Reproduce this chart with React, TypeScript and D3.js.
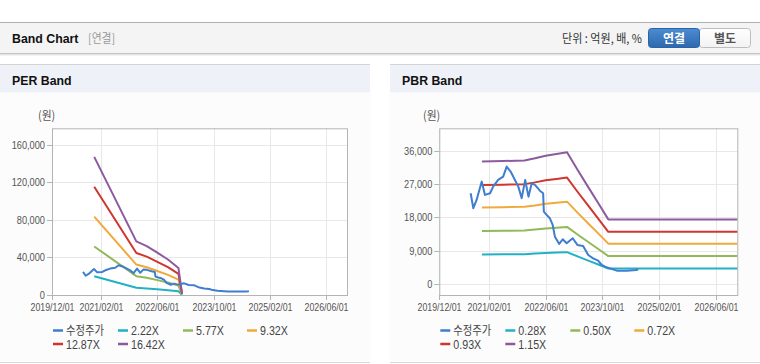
import React from "react";
import * as d3 from "d3";

// ---------- DATA ----------
const PRICE_DATES = [
  "2020-08-26","2020-09-18","2020-10-16","2020-11-29","2020-12-27","2021-02-09","2021-03-07",
  "2021-04-19","2021-06-01","2021-07-01","2021-08-04","2021-09-10","2021-10-09","2021-11-07",
  "2021-12-07","2022-01-04","2022-02-01","2022-03-01","2022-04-12","2022-05-10","2022-05-16",
  "2022-06-09","2022-07-06","2022-07-31","2022-08-19","2022-09-25","2022-10-25","2022-11-28",
  "2023-01-19","2023-02-28","2023-04-18","2023-06-01","2023-07-13","2023-08-25","2023-09-25",
  "2023-11-05","2024-02-01","2024-04-25","2024-07-19","2024-08-03"
];
const PRICE_VALUES = [
  24520,20480,22720,27650,24070,24520,26300,
  28100,29000,31700,30350,28100,26300,23200,
  28100,23600,27200,26760,25200,24520,19570,
  18680,17790,15980,12830,10860,12130,11050,
  12400,10600,10320,7900,7000,6360,5200,
  4580,3670,3670,3850,4040
];

const PER_BAND_DATES = ["2020-12-01","2021-12-01","2022-03-01","2022-06-01","2022-09-01","2022-12-01","2023-01-01"];
const PER_LABELS = ["2.22X","5.77X","9.32X","12.87X","16.42X"];
const PER_BAND_1 = [19870, 7700, 7040, 6080, 5110, 3890, 220];
const PER_BAND_2 = [51640, 20020, 18290, 15810, 13270, 10100, 580];
const PER_BAND_3 = [83410, 32340, 29540, 25540, 21440, 16310, 930];
const PER_BAND_4 = [115190, 44660, 40800, 35260, 29600, 22520, 1290];
const PER_BAND_5 = [146960, 56980, 52050, 44990, 37770, 28740, 1640];
const PER_Y_TICKS = [0, 40000, 80000, 120000, 160000];

const PBR_BAND_DATES = ["2020-12-01","2021-06-01","2021-12-01","2022-03-01","2022-06-01","2022-09-01","2022-12-01","2023-03-01","2023-06-01","2023-09-01","2023-11-20","2026-12-01"];
const PBR_LABELS = ["0.28X","0.50X","0.72X","0.93X","1.15X"];
const PBR_BAND_1 = [8040, 8080, 8120, 8260, 8430, 8540, 8650, 7500, 6370, 5250, 4260, 4260];
const PBR_BAND_2 = [14365, 14425, 14500, 14750, 15050, 15250, 15450, 13400, 11375, 9375, 7600, 7600];
const PBR_BAND_3 = [20690, 20770, 20880, 21240, 21670, 21960, 22250, 19300, 16380, 13500, 10940, 10940];
const PBR_BAND_4 = [26720, 26830, 26970, 27440, 27990, 28370, 28740, 24920, 21160, 17440, 14140, 14140];
const PBR_BAND_5 = [33040, 33180, 33350, 33930, 34620, 35080, 35540, 30820, 26160, 21560, 17480, 17480];
const PBR_Y_TICKS = [0, 9000, 18000, 27000, 36000];

const X_TICKS = ["2019-12-01","2021-02-01","2022-06-01","2023-10-01","2025-02-01","2026-06-01"];
const X_DOMAIN = ["2019-12-01", "2026-12-01"];
const PRICE_LABEL = "수정주가";

const COLORS = ["#3f7dcf", "#22b1c4", "#91b957", "#f2a93c", "#cf372e", "#8e5a9f"];

// ---------- HELPERS ----------
const parse = d3.timeParse("%Y-%m-%d");
const fmtDate = d3.timeFormat("%Y/%m/%d");
const fmtNum = d3.format(",");
const FONT = "'Liberation Sans', Arial, 'Noto Sans CJK KR', sans-serif";
const KFONT = "'Noto Sans CJK KR', 'Liberation Sans', sans-serif";

function SText(props: any) {
  const { x, y, anchor = "start", size = 11, fill = "#555", weight = "normal", sx = 0.82, family = FONT, children } = props;
  return (
    <text
      transform={`translate(${x},${y}) scale(${sx},1)`}
      textAnchor={anchor}
      fontSize={size}
      fill={fill}
      fontWeight={weight}
      fontFamily={family}
    >
      {children}
    </text>
  );
}

function BandPanel(props: any) {
  const { px, pw, title, left, right, yDomain, yTicks, bandDates, bands, labels, unitX } = props;
  const top = 128.3;
  const bottom = 295;
  const x = d3.scaleTime().domain(X_DOMAIN.map((d) => parse(d) as Date)).range([left, right]);
  const y = d3.scaleLinear().domain(yDomain).range([bottom, top]);
  const line = d3
    .line<[Date, number]>()
    .x((d) => x(d[0]))
    .y((d) => y(d[1]));

  const priceData: [Date, number][] = PRICE_DATES.map((d, i) => [parse(d) as Date, PRICE_VALUES[i]]);
  const bandDatesP = bandDates.map((d: string) => parse(d) as Date);

  const legendItems = [PRICE_LABEL, ...labels];
  const legendX = [0, 65, 130, 194];

  return (
    <g>
      {/* title bar */}
      <rect x={px} y={64} width={pw} height={28.5} fill="#eef2f8" />
      <line x1={px} x2={px + pw} y1={64.5} y2={64.5} stroke="#d4d4d4" />
      <SText x={px + 12} y={85} size={13} weight="bold" fill="#111" sx={0.95}>{title}</SText>
      {/* body */}
      <rect x={px} y={93} width={pw} height={268} fill="#fcfcfc" />
      <line x1={px} x2={px + pw} y1={362.5} y2={362.5} stroke="#d8d8d8" />
      {/* unit label */}
      <SText x={unitX} y={120} size={12} fill="#555" sx={0.9} family={KFONT}>(원)</SText>
      {/* plot bg */}
      <rect x={left} y={top} width={right - left} height={bottom - top} fill="#ffffff" />
      {/* grid */}
      {yTicks.map((t: number) => (
        <line key={"gy" + t} x1={left} x2={right} y1={Math.round(y(t)) + 0.5} y2={Math.round(y(t)) + 0.5} stroke="#e8e8e8" />
      ))}
      {X_TICKS.map((t) => {
        const xx = Math.round(x(parse(t) as Date)) + 0.5;
        return <line key={"gx" + t} x1={xx} x2={xx} y1={top} y2={bottom} stroke="#e8e8e8" />;
      })}
      {/* frame */}
      <rect x={left + 0.5} y={top + 0.5} width={right - left} height={bottom - top} fill="none" stroke="#b4b4b4" />
      {/* y ticks */}
      {yTicks.map((t: number) => (
        <g key={"ty" + t}>
          <line x1={left - 5} x2={left} y1={Math.round(y(t)) + 0.5} y2={Math.round(y(t)) + 0.5} stroke="#b4b4b4" />
          <SText x={left - 7} y={y(t) + 4} anchor="end" size={11} fill="#555" sx={0.84}>{fmtNum(t)}</SText>
        </g>
      ))}
      {/* x ticks */}
      {X_TICKS.map((t) => {
        const xx = Math.round(x(parse(t) as Date)) + 0.5;
        return (
          <g key={"tx" + t}>
            <line x1={xx} x2={xx} y1={bottom} y2={bottom + 5} stroke="#b4b4b4" />
            <SText x={xx} y={311} anchor="middle" size={11} fill="#555" sx={0.8}>{fmtDate(parse(t) as Date)}</SText>
          </g>
        );
      })}
      {/* bands */}
      {bands.map((vals: number[], i: number) => (
        <path
          key={"b" + i}
          d={line(bandDatesP.map((d: Date, j: number) => [d, vals[j]] as [Date, number])) || ""}
          fill="none"
          stroke={COLORS[i + 1]}
          strokeWidth={2}
          strokeLinejoin="round"
        />
      ))}
      {/* price */}
      <path d={line(priceData) || ""} fill="none" stroke={COLORS[0]} strokeWidth={2} strokeLinejoin="round" />
      {/* legend */}
      {legendItems.map((lab, i) => {
        const row = i < 4 ? 0 : 1;
        const col = i < 4 ? i : i - 4;
        const lx = left + 1 + legendX[col];
        const ly = row === 0 ? 330.5 : 344;
        return (
          <g key={"lg" + i}>
            <line x1={lx} x2={lx + 10} y1={ly} y2={ly} stroke={COLORS[i]} strokeWidth={2.5} />
            <SText x={lx + 13} y={ly + 4.5} size={12} fill="#444" sx={i === 0 ? 0.86 : 0.89} family={i === 0 ? KFONT : FONT}>{lab}</SText>
          </g>
        );
      })}
    </g>
  );
}

export default function App() {
  return (
    <svg
      width={760}
      height={364}
      style={{ position: "absolute", left: 0, top: 0, background: "#fff" }}
      fontFamily={FONT}
    >
      <defs>
        <linearGradient id="btnBlue" x1="0" y1="0" x2="0" y2="1">
          <stop offset="0" stopColor="#4c8cd2" />
          <stop offset="1" stopColor="#2d68ad" />
        </linearGradient>
        <linearGradient id="btnWhite" x1="0" y1="0" x2="0" y2="1">
          <stop offset="0" stopColor="#ffffff" />
          <stop offset="1" stopColor="#f2f2f2" />
        </linearGradient>
      </defs>
      {/* header */}
      <rect x={0} y={23} width={760} height={30} fill="#f4f4f4" />
      <line x1={0} x2={760} y1={22.5} y2={22.5} stroke="#b0b0b0" />
      <line x1={0} x2={760} y1={53.5} y2={53.5} stroke="#c4c4c4" />
      <line x1={0} x2={760} y1={54.5} y2={54.5} stroke="#e4e4e4" />
      <line x1={0} x2={760} y1={55.5} y2={55.5} stroke="#f2f2f2" />
      <SText x={12} y={43} size={13} weight="bold" fill="#111" sx={0.95}>Band Chart</SText>
      <SText x={88} y={43} size={12} fill="#999" sx={0.9} family={KFONT}>[연결]</SText>
      <SText x={642} y={43} anchor="end" size={12} fill="#333" sx={0.92} family={KFONT}>단위 : 억원, 배, %</SText>
      <rect x={699.5} y={28.5} width={51} height={19} rx={3} fill="url(#btnWhite)" stroke="#bdbdbd" />
      <rect x={648.5} y={28.5} width={51} height={19} rx={3} fill="url(#btnBlue)" stroke="#2a64a6" />
      <SText x={674} y={42.5} anchor="middle" size={12} weight="bold" fill="#fff" sx={1} family={KFONT}>연결</SText>
      <SText x={725} y={42.5} anchor="middle" size={12} weight="bold" fill="#555" sx={1} family={KFONT}>별도</SText>

      <BandPanel
        px={0}
        pw={370}
        title="PER Band"
        left={52}
        right={347}
        yDomain={[0, 177300]}
        yTicks={PER_Y_TICKS}
        bandDates={PER_BAND_DATES}
        bands={[PER_BAND_1, PER_BAND_2, PER_BAND_3, PER_BAND_4, PER_BAND_5]}
        labels={PER_LABELS}
        unitX={38}
      />
      <BandPanel
        px={390}
        pw={370}
        title="PBR Band"
        left={439.3}
        right={737.3}
        yDomain={[-2880, 42000]}
        yTicks={PBR_Y_TICKS}
        bandDates={PBR_BAND_DATES}
        bands={[PBR_BAND_1, PBR_BAND_2, PBR_BAND_3, PBR_BAND_4, PBR_BAND_5]}
        labels={PBR_LABELS}
        unitX={423}
      />
    </svg>
  );
}
